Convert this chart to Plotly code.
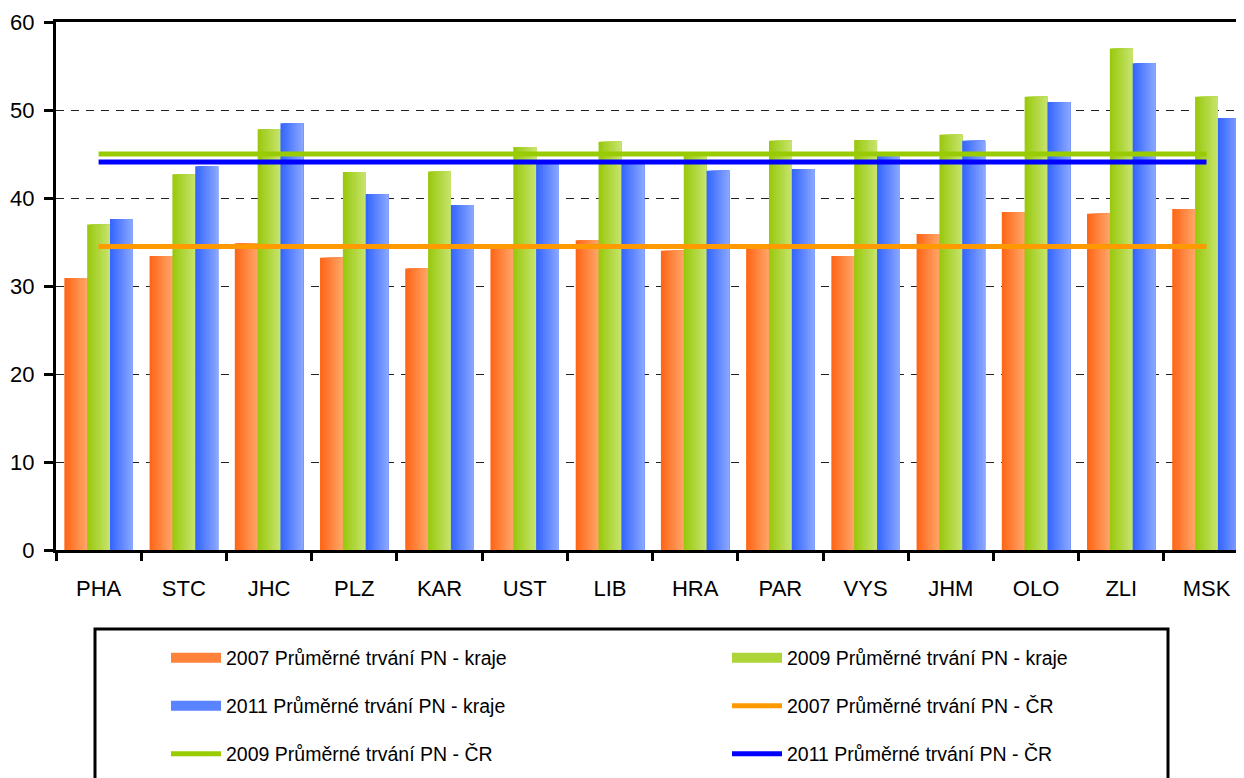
import plotly.graph_objects as go

categories = ["PHA", "STC", "JHC", "PLZ", "KAR", "UST", "LIB", "HRA", "PAR", "VYS", "JHM", "OLO", "ZLI", "MSK"]
kraje_2007 = [30.9, 33.4, 34.85, 33.2, 32.0, 34.6, 35.2, 34.0, 34.4, 33.4, 35.9, 38.4, 38.2, 38.75]
kraje_2009 = [37.0, 42.7, 47.8, 42.95, 43.0, 45.8, 46.4, 44.9, 46.5, 46.6, 47.2, 51.5, 57.0, 51.5]
kraje_2011 = [37.6, 43.6, 48.5, 40.45, 39.2, 44.2, 44.2, 43.1, 43.3, 44.8, 46.5, 50.9, 55.3, 49.1]
cr_2007 = 34.5
cr_2009 = 45.0
cr_2011 = 44.1

FONT = "Liberation Sans, Arial, sans-serif"

# the page body adds an 8px margin, so the figure is 8px smaller than the window
W, H = 1236, 770
# plot area in figure pixels
L, T, B, PW = 48, 14, 542, 1188


def px_x(p):
    # p = page pixel
    return (p - 8 - L) / PW


def px_y(p):
    return (B - (p - 8)) / (B - T)


def mix(c1, c2, t):
    r, g, b = (round(a + (b_ - a) * t) for a, b_ in zip(c1, c2))
    return f"rgb({r},{g},{b})"


# each bar is split into strips, dark on the left to light on the right
bar_series = [
    ("2007 Průměrné trvání PN - kraje", kraje_2007, (255, 100, 20), (255, 166, 106), "legend"),
    ("2009 Průměrné trvání PN - kraje", kraje_2009, (152, 200, 10), (200, 228, 112), "legend2"),
    ("2011 Průměrné trvání PN - kraje", kraje_2011, (50, 100, 255), (140, 168, 255), "legend3"),
]
N = 10
bw = 0.268
start = -1.5 * bw

fig = go.Figure()
for k, (name, vals, c1, c2, leg) in enumerate(bar_series):
    x0 = start + k * bw
    for j in range(N):
        off = x0 + j * bw / N
        fig.add_trace(go.Bar(
            x=categories, y=vals,
            offset=off, width=x0 + bw - off,
            marker=dict(color=mix(c1, c2, (j + 0.5) / N), line=dict(width=0)),
            name=name, showlegend=False,
            hoverinfo="skip" if j else None,
        ))
    # legend entry for the bar series
    fig.add_trace(go.Scatter(
        x=[None], y=[None], mode="lines", name=name, legend=leg,
        line=dict(color=mix(c1, c2, 0.45), width=16),
    ))

lines = [
    ("2007 Průměrné trvání PN - ČR", cr_2007, "#ff9900", "legend4"),
    ("2009 Průměrné trvání PN - ČR", cr_2009, "#99cc00", "legend5"),
    ("2011 Průměrné trvání PN - ČR", cr_2011, "#0000ff", "legend6"),
]
for name, v, col, leg in lines:
    fig.add_trace(go.Scatter(
        x=categories, y=[v] * len(categories), mode="lines",
        line=dict(color=col, width=5),
        name=name, legend=leg,
    ))

leg_common = dict(
    orientation="h", xanchor="left", yanchor="middle",
    font=dict(family=FONT, size=19.5, color="black"),
    itemwidth=50, bgcolor="rgba(0,0,0,0)", borderwidth=0,
)
col1, col2 = 166, 727
rows = [658, 706, 754]

fig.update_layout(
    width=W, height=H,
    margin=dict(l=L, r=W - L - PW, t=T, b=H - B, autoexpand=False),
    paper_bgcolor="white", plot_bgcolor="white",
    barmode="overlay",
    font=dict(family=FONT, color="black"),
    xaxis=dict(
        range=[-0.5, 13.44], showline=True, linecolor="black", linewidth=3,
        mirror=True, ticks="outside", tickson="boundaries", ticklen=8, tickwidth=3,
        tickcolor="black", tickfont=dict(size=22), ticklabelstandoff=17,
        showgrid=False, zeroline=False,
    ),
    yaxis=dict(
        range=[0, 60], dtick=10, showline=True, linecolor="black", linewidth=3,
        ticks="outside", ticklen=9, tickwidth=3, tickcolor="black",
        tickfont=dict(size=22), ticklabelstandoff=5,
        showgrid=True, gridcolor="#222", gridwidth=1.3, griddash="8px,7px",
        zeroline=False,
    ),
    legend=dict(leg_common, x=px_x(col1), y=px_y(rows[0])),
    legend2=dict(leg_common, x=px_x(col2), y=px_y(rows[0])),
    legend3=dict(leg_common, x=px_x(col1), y=px_y(rows[1])),
    legend4=dict(leg_common, x=px_x(col2), y=px_y(rows[1])),
    legend5=dict(leg_common, x=px_x(col1), y=px_y(rows[2])),
    legend6=dict(leg_common, x=px_x(col2), y=px_y(rows[2])),
    shapes=[dict(
        type="rect", xref="paper", yref="paper",
        x0=px_x(95), x1=px_x(1168), y0=px_y(629), y1=px_y(800),
        line=dict(color="black", width=3), fillcolor="rgba(0,0,0,0)", layer="below",
    )],
    showlegend=True,
)

fig.write_html("out.html")
